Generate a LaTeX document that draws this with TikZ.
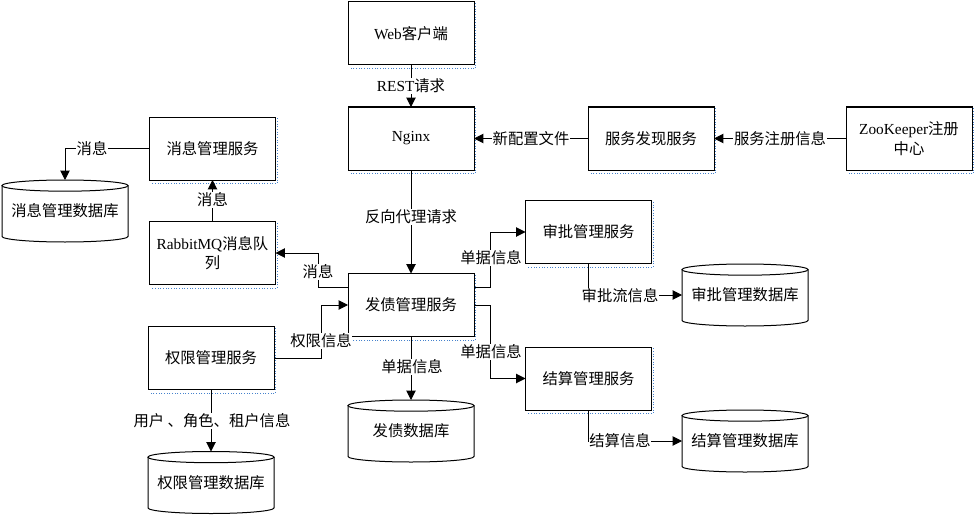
\documentclass[tikz,border=0pt]{standalone}
\usepackage{fontspec}
\setmainfont{Noto Sans CJK SC}
\newfontfamily\lat{Liberation Serif}
\usetikzlibrary{arrows.meta,calc}
\definecolor{shdcol}{RGB}{70,130,205}
\tikzset{
  every node/.style={font=\fontsize{11.5pt}{14.5pt}\selectfont},
  box/.style={draw, line width=0.75pt, minimum width=94.5pt, minimum height=47.25pt, inner sep=1pt, outer sep=0pt, align=center},
  dbtext/.style={minimum width=94.5pt, minimum height=46.5pt, inner sep=0pt, outer sep=0pt},
  lbl/.style={fill=white, inner sep=0.5pt},
  conn/.style={line width=0.75pt, -{Triangle[length=7pt,width=7pt]}},
  plain/.style={line width=0.75pt},
  shdw/.style={shdcol, line width=1pt, dash pattern=on 0.75pt off 1.25pt},
}
\newcommand\svcbox[4]{%
  \node[box] (#1) at (#2,#3) {#4};
  \draw[shdw] ([xshift=1.3pt,yshift=-1pt]#1.north east) -- ([xshift=1.3pt,yshift=-2.8pt]#1.south east) -- ([xshift=1.5pt,yshift=-2.8pt]#1.south west);
}
\newcommand\dbnode[4]{%
  \node[dbtext] (#1) at (#2,#3) {#4};
  \draw[plain] ([yshift=-4.2pt]#1.north) ellipse [x radius=47.25pt, y radius=4.2pt];
  \draw[plain] ([yshift=-4.2pt]#1.north west) -- ([yshift=4.2pt]#1.south west)
     arc[start angle=180, end angle=360, x radius=47.25pt, y radius=4.2pt]
     -- ([yshift=-4.2pt]#1.north east);
}
\begin{document}
\begin{tikzpicture}[x=0.75pt,y=-0.75pt]
\useasboundingbox (0,0) rectangle (978,517);
% boxes
\svcbox{web}{411}{33.5}{{\lat Web}客户端}
\svcbox{ng}{411}{138.5}{{\lat Nginx}}
\svcbox{fx}{651}{138.5}{服务发现服务}
\svcbox{zk}{909}{138.5}{{\lat ZooKeeper}注册\\中心}
\svcbox{xx}{212.5}{148.5}{消息管理服务}
\svcbox{rmq}{212.5}{253}{{\lat RabbitMQ}消息队\\列}
\svcbox{fa}{411}{305}{发债管理服务}
\svcbox{qx}{211}{358}{权限管理服务}
\svcbox{sp}{588.5}{232}{审批管理服务}
\svcbox{js}{588.5}{378.5}{结算管理服务}
% databases
\dbnode{xxdb}{65}{211}{消息管理数据库}
\dbnode{fadb}{411}{431}{发债数据库}
\dbnode{qxdb}{211}{482.5}{权限管理数据库}
\dbnode{spdb}{745}{295}{审批管理数据库}
\dbnode{jsdb}{745}{441}{结算管理数据库}
% connectors
\draw[conn] (web.south) -- (ng.north);
\draw[conn] (fx.west) -- (ng.east);
\draw[conn] (zk.west) -- (fx.east);
\draw[conn] (ng.south) -- (fa.north);
\draw[conn] (xx.west) -| (xxdb.north);
\draw[conn] (rmq.north) -- (xx.south);
\draw[conn] ($(fa.west)+(0,-18)$) -- ++(-30,0) |- (rmq.east);
\draw[conn] (qx.east) -- ++(47,0) |- (fa.west);
\draw[conn] (qx.south) -- (qxdb.north);
\draw[conn] (fa.south) -- (fadb.north);
\draw[conn] ($(fa.east)+(0,-18)$) -- ++(16,0) |- (sp.west);
\draw[conn] (fa.east) -- ++(16,0) |- (js.west);
\draw[conn] (sp.south) |- (spdb.west);
\draw[conn] (js.south) |- (jsdb.west);
% labels
\node[lbl] (l1) at (411,86) {{\lat REST}请求};
\node[lbl] (l2) at (531,138.5) {新配置文件};
\node[lbl] (l3) at (780,138.5) {服务注册信息};
\node[lbl] (l4) at (411,217) {反向代理请求};
\node[lbl] (l5) at (92,148.5) {消息};
\node[lbl] (l6) at (212.5,200) {消息};
\node[lbl] (l7) at (318,272) {消息};
\node[lbl] (l8) at (321,341) {权限信息};
\node[lbl] (l9) at (412,367) {单据信息};
\node[lbl] (l10) at (212,421) {用户 、角色、租户信息};
\node[lbl] (l11) at (491,258) {单据信息};
\node[lbl] (l12) at (491,352) {单据信息};
\node[lbl] (l13) at (620,296) {审批流信息};
\node[lbl] (l14) at (620,441) {结算信息};
\end{tikzpicture}
\end{document}
